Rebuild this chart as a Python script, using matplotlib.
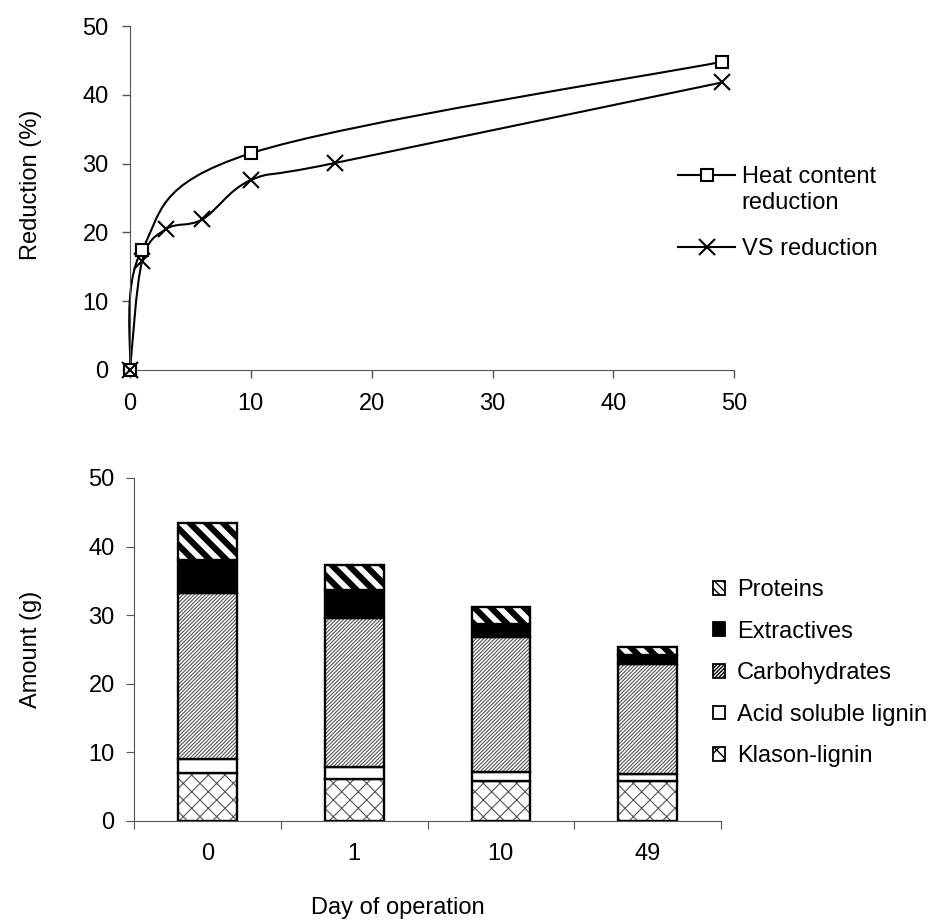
import matplotlib
matplotlib.use("Agg")
import matplotlib.pyplot as plt
import numpy as np
from matplotlib.path import Path
from matplotlib.patches import PathPatch, Patch
from matplotlib.lines import Line2D

plt.rcParams['font.family'] = ['Liberation Sans', 'DejaVu Sans']
plt.rcParams['font.size'] = 17

# reduction curves
heat_days = [0, 1, 10, 49]
heat_red = [0, 17.5, 31.5, 44.8]
vs_days = [0, 1, 3, 6, 10, 17, 49]
vs_red = [0, 15.8, 20.5, 21.9, 27.6, 30.1, 41.8]

# composition per sampling day (g)
days = ["0", "1", "10", "49"]
klason = [6.9, 6.1, 5.8, 5.8]
acid_sol = [2.1, 1.7, 1.3, 1.0]
carbs = [24.2, 21.8, 19.7, 16.0]
extractives = [4.8, 4.0, 1.9, 1.4]
proteins = [5.5, 3.7, 2.5, 1.2]

AXCOL = '#555555'


def smooth_path(x, y):
    # Catmull-Rom style bezier segments through the points
    pts = np.column_stack([x, y]).astype(float)
    n = len(pts)
    verts = [pts[0]]
    codes = [Path.MOVETO]
    for i in range(n - 1):
        p0 = pts[i - 1] if i > 0 else pts[i]
        p1 = pts[i]
        p2 = pts[i + 1]
        p3 = pts[i + 2] if i + 2 < n else pts[i + 1]
        c1 = p1 + (p2 - p0) / 6.0
        c2 = p2 - (p3 - p1) / 6.0
        verts += [c1, c2, p2]
        codes += [Path.CURVE4] * 3
    return Path(verts, codes)


fig = plt.figure(figsize=(9.48, 9.22), dpi=100)

# --- top: reduction vs. day ---
ax1 = fig.add_axes([0.1371, 0.5987, 0.6374, 0.3731])
for xs, ys in [(heat_days, heat_red), (vs_days, vs_red)]:
    ax1.add_patch(PathPatch(smooth_path(xs, ys), fill=False, lw=1.5,
                            ec='black', clip_on=False, zorder=2))
ax1.plot(heat_days, heat_red, ls='none', marker='s', ms=9, mfc='white',
         mec='black', mew=1.5, clip_on=False, zorder=3)
ax1.plot(vs_days, vs_red, ls='none', marker='x', ms=11, mec='black',
         mew=1.5, clip_on=False, zorder=3)
ax1.set_xlim(0, 50)
ax1.set_ylim(0, 50)
ax1.set_xticks(range(0, 51, 10))
ax1.set_yticks(range(0, 51, 10))
ax1.spines[['top', 'right']].set_visible(False)
for s in ['left', 'bottom']:
    ax1.spines[s].set_color(AXCOL)
ax1.tick_params(direction='out', length=5.8, width=1, color=AXCOL)
ax1.tick_params(axis='y', pad=9.5)
ax1.tick_params(axis='x', pad=10.5)
ax1.set_ylabel("Reduction (%)")
ax1.yaxis.set_label_coords(-0.1456, 0.538)

h1 = [Line2D([], [], color='black', lw=1.5, marker='s', ms=9, mfc='white',
             mew=1.5),
      Line2D([], [], color='black', lw=1.5, marker='x', ms=11, mew=1.5)]
leg1 = ax1.legend(h1, ["Heat content\nreduction", "VS reduction"],
                  frameon=False, loc='upper left',
                  bbox_to_anchor=(0.7152, 0.8196),
                  bbox_transform=fig.transFigure, handlelength=2.42,
                  handletextpad=0.28, labelspacing=1.02, borderpad=0,
                  borderaxespad=0)
# keep the key of the two-line entry level with its first line
rows = leg1._legend_handle_box.get_children()[0].get_children()
rows[0].align = 'top'

# --- bottom: stacked composition ---
ax2 = fig.add_axes([0.1418, 0.1099, 0.6184, 0.3717])
x = np.arange(len(days))
w = 0.4
layers = [
    (klason, 'white', 'xx', 0.8, 'Klason-lignin'),
    (acid_sol, 'white', None, 0.8, 'Acid soluble lignin'),
    (carbs, 'white', '/' * 9, 0.8, 'Carbohydrates'),
    (extractives, 'black', None, 0.8, 'Extractives'),
    (proteins, 'white', '\\\\', 4.4, 'Proteins'),
]
bottom = np.zeros(len(days))
handles = []
for vals, fc, hatch, hlw, name in layers:
    hcol = 'black' if name == 'Proteins' else '#555555'
    fill = ax2.bar(x, vals, w, bottom=bottom, facecolor=fc, hatch=hatch,
                   edgecolor=hcol, linewidth=0)
    for p in fill:
        p.set_hatch_linewidth(hlw)
    ax2.bar(x, vals, w, bottom=bottom, fill=False, edgecolor='black',
            linewidth=1.7)
    hp = Patch(facecolor=fc, edgecolor='black', linewidth=1.3,
               hatch=(hatch * 2 if name == 'Proteins' else hatch))
    hp.set_hatch_linewidth(2.6 if name == 'Proteins' else 0.8)
    handles.append((hp, name))
    bottom = bottom + np.array(vals)

ax2.set_xlim(-0.5, len(days) - 0.5)
ax2.set_ylim(0, 50)
ax2.set_yticks(range(0, 51, 10))
ax2.set_xticks(np.arange(-0.5, len(days), 1.0))
ax2.set_xticklabels([])
ax2.set_xticks(x, minor=True)
ax2.set_xticklabels(days, minor=True)
ax2.tick_params(axis='x', which='minor', length=0, pad=16)
ax2.tick_params(axis='x', which='major', direction='out', length=5.8,
                color=AXCOL)
ax2.tick_params(axis='y', direction='out', length=5.8, color=AXCOL, pad=8.4)
ax2.spines[['top', 'right']].set_visible(False)
for s in ['left', 'bottom']:
    ax2.spines[s].set_color(AXCOL)
ax2.set_ylabel("Amount (g)")
ax2.yaxis.set_label_coords(-0.1576, 0.5)
ax2.set_xlabel("Day of operation")
ax2.xaxis.set_label_coords(0.449, -0.2226)

handles = handles[::-1]
ax2.legend([h for h, _ in handles], [n for _, n in handles], frameon=False,
           loc='upper left', bbox_to_anchor=(0.7518, 0.372),
           bbox_transform=fig.transFigure, handlelength=0.52,
           handleheight=0.52, handletextpad=0.5, labelspacing=0.83,
           borderpad=0, borderaxespad=0)

fig.savefig("out.png", dpi=100)
